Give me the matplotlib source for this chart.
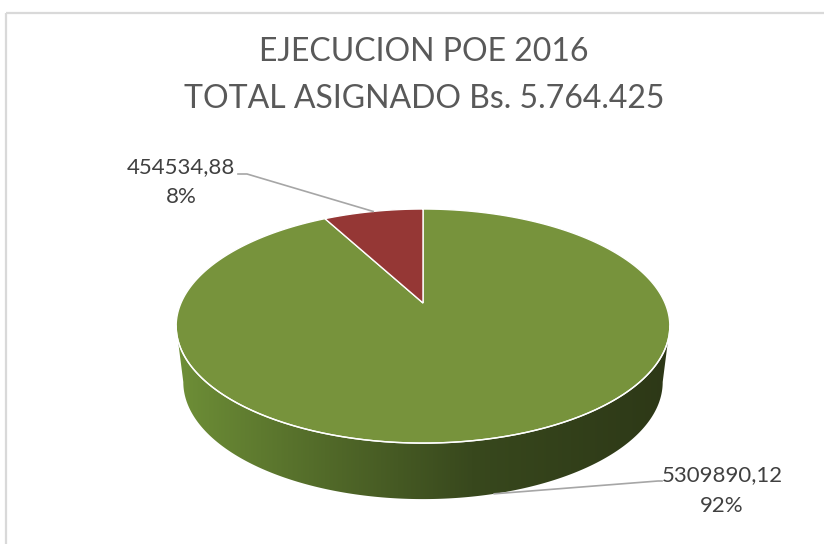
import numpy as np
import matplotlib.pyplot as plt
from matplotlib.patches import Polygon, Rectangle
from matplotlib.colors import LinearSegmentedColormap

# chart data
title_lines = ["EJECUCION POE 2016", "TOTAL ASIGNADO Bs. 5.764.425"]
values = [5309890.12, 454534.88]
top_colors = ["#77933c", "#953735"]

# layout (pixel space)
W, H = 824, 544
cx, cy = 423, 303          # projected centre of the disc (slice apex)
A, B = 242, 112.5          # disc radii before perspective
k = 0.197                  # perspective strength (far side smaller)
depth = 56                 # thickness of the disc
A_bot = 235

plt.rcParams['font.family'] = ['Lato', 'DejaVu Sans']

fig = plt.figure(figsize=(W / 100, H / 100), dpi=100)
ax = fig.add_axes([0, 0, 1, 1])
ax.set_xlim(0, W)
ax.set_ylim(H, 0)
ax.axis('off')

# chart frame
ax.add_patch(Rectangle((6, 13), W + 20, H, fill=False, edgecolor='#d9d9d9', lw=1.6))

for i, line in enumerate(title_lines):
    ax.text(424, 52 + i * 47, line, ha='center', va='center', fontsize=23,
            color='#595959')


def proj(theta, rad=A, dy=0.0):
    # theta: angle on the disc, v = sin(theta) > 0 is the far side
    u, v = np.cos(theta), np.sin(theta)
    d = 1 + k * v
    return cx + rad * u / d, cy + dy - B * v / d


# side of the disc (front half between the silhouette points)
th = np.linspace(-np.arcsin(k), -np.pi + np.arcsin(k), 300)
tx, ty = proj(th)
bx, by = proj(th[::-1], A_bot, depth)
side = Polygon(np.column_stack([np.r_[tx, bx], np.r_[ty, by]]), closed=True,
               facecolor='none', edgecolor='none')
ax.add_patch(side)
cmap = LinearSegmentedColormap.from_list('side', [(0, '#6e8f37'), (0.3, '#526a29'),
                                                  (0.6, '#38481d'), (1, '#2d3817')])
grad = np.linspace(0, 1, 256).reshape(1, -1)
im = ax.imshow(grad, extent=(tx.min(), tx.max(), by.max() + 2, ty.min() - 5), cmap=cmap,
               aspect='auto', origin='upper', zorder=1)
im.set_clip_path(side)
ax.set_xlim(0, W)
ax.set_ylim(H, 0)

# top surface: slices clockwise from 12 o'clock
total = sum(values)
fracs = np.array(values) / total
start = 0.0
mids = []
for frac, col in zip(fracs, top_colors):
    phi = np.linspace(start, start + frac, 300) * 2 * np.pi
    px, py = proj(np.pi / 2 - phi)
    pts = np.column_stack([np.r_[cx, px], np.r_[cy, py]])
    ax.add_patch(Polygon(pts, closed=True, facecolor=col, edgecolor='white',
                         lw=1.0, zorder=2 if frac > 0.5 else 3))
    mids.append(np.pi / 2 - (start + frac / 2) * 2 * np.pi)
    start += frac

# white rim along the front edge of the top
ax.plot(tx, ty, color='white', lw=1.0, zorder=4)


def fmt(v):
    return f"{v:.2f}".replace('.', ',')


# labels
pcts = [f"{round(f * 100)}%" for f in fracs]
lab_kw = dict(ha='center', va='center', fontsize=16, color='#404040')
# green slice label (bottom right), leader to the side of the disc
gx, gy = proj(mids[0], A_bot, depth)
ax.plot([gx, 658, 662], [gy, 481, 481], color='#a6a6a6', lw=1.2, zorder=5)
ax.text(722, 475, fmt(values[0]), **lab_kw)
ax.text(722, 506, pcts[0], **lab_kw)
# red slice label (top left)
rx, ry = proj(mids[1])
ax.plot([rx, 247, 238], [ry, 174, 174], color='#a6a6a6', lw=1.2, zorder=5)
ax.text(181, 167, fmt(values[1]), **lab_kw)
ax.text(181, 197, pcts[1], **lab_kw)

fig.savefig('out.png', dpi=100)
